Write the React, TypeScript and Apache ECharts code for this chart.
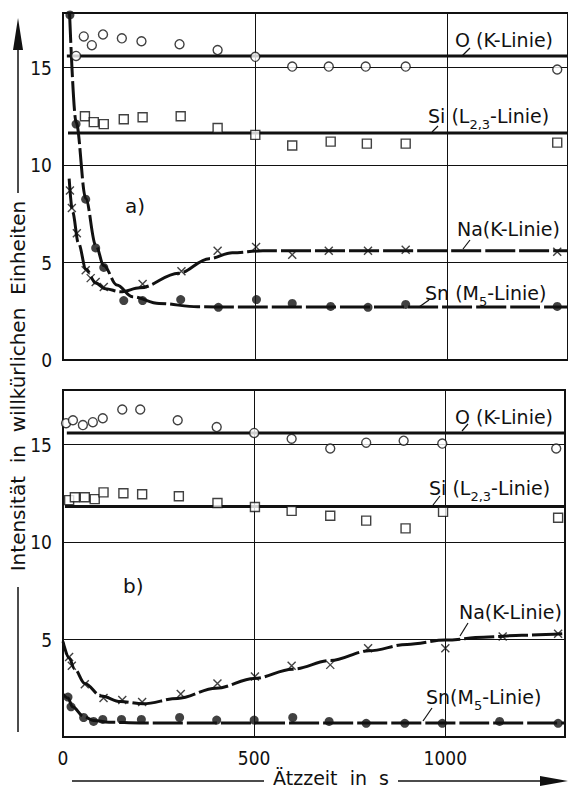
import React, { useEffect, useRef } from "react";
import * as echarts from "echarts";

// ---------- data ----------
const X_TICKS = [0, 500, 1000];
const Y_TICKS_A = [0, 5, 10, 15];
const Y_TICKS_B = [5, 10, 15];

// panel a)
const aO = [[34,15.6],[54,16.6],[75,16.15],[104,16.7],[153,16.5],[204,16.35],[303,16.2],[402,15.9],[500,15.55],[596,15.05],[691,15.05],[787,15.05],[891,15.05],[1285,14.9]];
const aSi = [[57,12.5],[80,12.2],[106,12.1],[158,12.35],[207,12.45],[306,12.5],[402,11.9],[500,11.55],[596,11.0],[696,11.2],[790,11.1],[891,11.1],[1285,11.15]];
const aNa = [[18,8.7],[23,7.8],[36,6.5],[59,4.6],[72,4.2],[85,4.0],[106,3.75],[207,3.9],[308,4.55],[402,5.6],[502,5.8],[596,5.4],[691,5.6],[793,5.6],[891,5.65],[1285,5.55]];
const aSn = [[18,17.7],[34,12.1],[59,8.25],[85,5.75],[106,4.75],[158,3.05],[207,3.05],[306,3.1],[404,2.7],[503,3.1],[596,2.9],[696,2.75],[793,2.7],[891,2.85],[1285,2.75]];
const aOFit = [[10,15.6],[1313,15.6]];
const aSiFit = [[13,11.65],[1313,11.65]];
const aNaFit = [[16,9.3],[25,7.6],[40,6.0],[60,4.65],[85,3.95],[110,3.65],[150,3.5],[200,3.7],[300,4.45],[380,5.2],[440,5.5],[520,5.6],[1313,5.6]];
const aSnFit = [[17,17.8],[34,12.2],[59,8.3],[85,5.9],[106,4.85],[140,3.85],[180,3.25],[250,2.9],[350,2.73],[450,2.72],[1313,2.72]];

// panel b)
const bO = [[8,16.1],[26,16.25],[52,16.0],[78,16.15],[104,16.35],[155,16.8],[202,16.8],[300,16.25],[402,15.9],[500,15.6],[598,15.3],[699,14.8],[793,15.1],[891,15.2],[992,15.05],[1290,14.8]];
const bSi = [[16,12.15],[31,12.3],[57,12.3],[83,12.2],[106,12.55],[158,12.5],[207,12.45],[303,12.35],[404,12.0],[502,11.8],[598,11.6],[699,11.35],[793,11.1],[896,10.7],[994,11.55],[1295,11.25]];
const bNa = [[16,4.1],[23,3.65],[57,2.7],[106,2.0],[155,1.9],[207,1.8],[308,2.2],[404,2.75],[502,3.1],[598,3.65],[699,3.7],[798,4.55],[1000,4.55],[1150,5.15],[1295,5.3]];
const bSn = [[13,2.05],[21,1.55],[54,1.0],[80,0.8],[104,0.9],[153,0.9],[205,0.9],[305,1.0],[402,0.87],[500,0.87],[601,1.0],[696,0.8],[793,0.7],[894,0.7],[992,0.7],[1142,0.8],[1295,0.7]];
const bOFit = [[10,15.6],[1313,15.6]];
const bSiFit = [[5,11.83],[1313,11.83]];
const bNaFit = [[0,4.9],[16,4.05],[30,3.5],[57,2.75],[100,2.1],[150,1.82],[210,1.7],[300,1.98],[400,2.5],[500,3.0],[600,3.48],[700,3.92],[800,4.42],[900,4.75],[1000,4.97],[1100,5.12],[1200,5.22],[1313,5.3]];
const bSnFit = [[0,2.2],[13,2.0],[25,1.55],[54,1.05],[80,0.85],[120,0.76],[200,0.72],[1313,0.72]];

const INK = "#111";
const FONT = '"DejaVu Sans", sans-serif';
const TICK_FONT = '"DejaVu Sans Condensed", "DejaVu Sans", sans-serif';
const X_MAX = 1313;
const Y_MAX = 17.8;
const CROSS = "path://M0,0L10,10M10,0L0,10";

function fitLine(data: number[][], grid: number, dashed: boolean) {
  return {
    type: "line",
    xAxisIndex: grid,
    yAxisIndex: grid,
    data,
    symbol: "none",
    smooth: 0.35,
    smoothMonotone: "x",
    lineStyle: { color: INK, width: 3, type: dashed ? [30, 4] : "solid" },
    z: 3,
  };
}

function markers(data: number[][], grid: number, kind: string) {
  let symbol = "circle";
  let size = 9;
  let itemStyle: any = { color: "#fff", borderColor: INK, borderWidth: 1.4 };
  if (kind === "Si") {
    symbol = "rect";
    size = 9;
  } else if (kind === "Sn") {
    itemStyle = { color: INK };
    size = 9;
  } else if (kind === "Na") {
    symbol = CROSS;
    size = 8;
    itemStyle = { color: "transparent", borderColor: INK, borderWidth: 1.4 };
  }
  return {
    type: "scatter",
    xAxisIndex: grid,
    yAxisIndex: grid,
    data,
    symbol,
    symbolSize: size,
    itemStyle,
    z: 4,
  };
}

function label(x: number, y: number, text: string, rich = false, size = 19) {
  const base = { fontSize: size, fontFamily: FONT, fill: INK };
  return {
    type: "text",
    x,
    y,
    z: 10,
    style: rich
      ? {
          ...base,
          text,
          align: "left",
          verticalAlign: "middle",
          rich: {
            m: { fontSize: size, fontFamily: FONT, color: INK, lineHeight: 30 },
            s: { fontSize: 13, fontFamily: FONT, color: INK, lineHeight: 16, verticalAlign: "bottom" },
          },
        }
      : { ...base, text, align: "left", verticalAlign: "middle" },
  };
}

function leader(x1: number, y1: number, x2: number, y2: number) {
  return { type: "line", z: 10, shape: { x1, y1, x2, y2 }, style: { stroke: INK, lineWidth: 1.2 } };
}

export default function App() {
  const ref = useRef<HTMLDivElement>(null);
  useEffect(() => {
    if (!ref.current) return;
    const chart = echarts.init(ref.current, undefined, { renderer: "svg" });
    const yAxis = (idx: number, ticks: number[]) => ({
      type: "value",
      gridIndex: idx,
      min: 0,
      max: Y_MAX,
      interval: 5,
      axisLine: { show: true, lineStyle: { color: INK, width: 2 } },
      axisTick: { show: false },
      axisLabel: {
        color: INK,
        fontSize: 19,
        fontFamily: TICK_FONT,
        margin: 11,
        formatter: (v: number) => (ticks.indexOf(v) >= 0 ? String(v) : ""),
      },
      splitLine: { show: true, lineStyle: { color: INK, width: 1 } },
    });
    const xAxis = (idx: number, showLabels: boolean) => ({
      type: "value",
      gridIndex: idx,
      min: 0,
      max: X_MAX,
      interval: 500,
      axisLine: { show: true, onZero: false, lineStyle: { color: INK, width: 2 } },
      axisTick: { show: false },
      axisLabel: {
        show: showLabels,
        color: INK,
        fontSize: 19,
        fontFamily: TICK_FONT,
        margin: 11,
        formatter: (v: number) => (X_TICKS.indexOf(v) >= 0 ? String(v) : ""),
      },
      splitLine: { show: true, lineStyle: { color: INK, width: 1 } },
    });

    chart.setOption({
      animation: false,
      backgroundColor: "#fff",
      grid: [
        { left: 63, top: 13, width: 507, height: 347, show: true, borderColor: INK, borderWidth: 2, backgroundColor: "transparent" },
        { left: 63, top: 390, width: 507, height: 347, show: true, borderColor: INK, borderWidth: 2, backgroundColor: "transparent" },
      ],
      xAxis: [xAxis(0, false), xAxis(1, true)],
      yAxis: [yAxis(0, Y_TICKS_A), yAxis(1, Y_TICKS_B)],
      series: [
        fitLine(aOFit, 0, false),
        fitLine(aSiFit, 0, false),
        fitLine(aNaFit, 0, true),
        fitLine(aSnFit, 0, true),
        fitLine(bOFit, 1, false),
        fitLine(bSiFit, 1, false),
        fitLine(bNaFit, 1, true),
        fitLine(bSnFit, 1, true),
        markers(aO, 0, "O"),
        markers(aSi, 0, "Si"),
        markers(aNa, 0, "Na"),
        markers(aSn, 0, "Sn"),
        markers(bO, 1, "O"),
        markers(bSi, 1, "Si"),
        markers(bNa, 1, "Na"),
        markers(bSn, 1, "Sn"),
      ],
      graphic: [
        // panel a labels
        label(455, 40, "O (K-Linie)"),
        leader(470, 48, 462, 56),
        label(428, 116, "{m|Si (L}{s|2,3}{m|-Linie)}", true),
        leader(438, 126, 432, 132),
        label(457, 229, "Na(K-Linie)"),
        leader(470, 240, 463, 249),
        label(425, 293, "{m|Sn (M}{s|5}{m|-Linie)}", true),
        leader(429, 300, 419, 307),
        label(125, 206, "a)", false, 20),
        // panel b labels
        label(455, 417, "O (K-Linie)"),
        leader(468, 424, 462, 431),
        label(429, 488, "{m|Si (L}{s|2,3}{m|-Linie)}", true),
        leader(440, 496, 433, 505),
        label(459, 612, "Na(K-Linie)"),
        leader(468, 623, 460, 636),
        label(426, 697, "{m|Sn(M}{s|5}{m|-Linie)}", true),
        leader(432, 708, 423, 721),
        label(123, 586, "b)", false, 20),
        // y-axis title with arrow
        {
          type: "text",
          x: 18,
          y: 386,
          rotation: Math.PI / 2,
          style: {
            text: "Intensität  in  willkürlichen  Einheiten",
            fontSize: 20,
            fontFamily: FONT,
            fill: INK,
            align: "center",
            verticalAlign: "middle",
          },
        },
        { type: "line", shape: { x1: 18, y1: 193, x2: 18, y2: 45 }, style: { stroke: INK, lineWidth: 1.5 } },
        { type: "polygon", shape: { points: [[13, 50], [23, 50], [18, 18]] }, style: { fill: INK } },
        { type: "line", shape: { x1: 18, y1: 587, x2: 18, y2: 732 }, style: { stroke: INK, lineWidth: 1.5 } },
        // x-axis title with arrow
        {
          type: "text",
          x: 331,
          y: 778,
          style: {
            text: "Ätzzeit  in  s",
            fontSize: 19,
            fontFamily: FONT,
            fill: INK,
            align: "center",
            verticalAlign: "middle",
          },
        },
        { type: "line", shape: { x1: 72, y1: 781, x2: 264, y2: 781 }, style: { stroke: INK, lineWidth: 1.5 } },
        { type: "line", shape: { x1: 398, y1: 781, x2: 545, y2: 781 }, style: { stroke: INK, lineWidth: 1.5 } },
        { type: "polygon", shape: { points: [[540, 776], [540, 786], [568, 781]] }, style: { fill: INK } },
      ],
    });
    return () => chart.dispose();
  }, []);
  return <div ref={ref} style={{ position: "fixed", left: 0, top: 0, width: 568, height: 791 }} />;
}
